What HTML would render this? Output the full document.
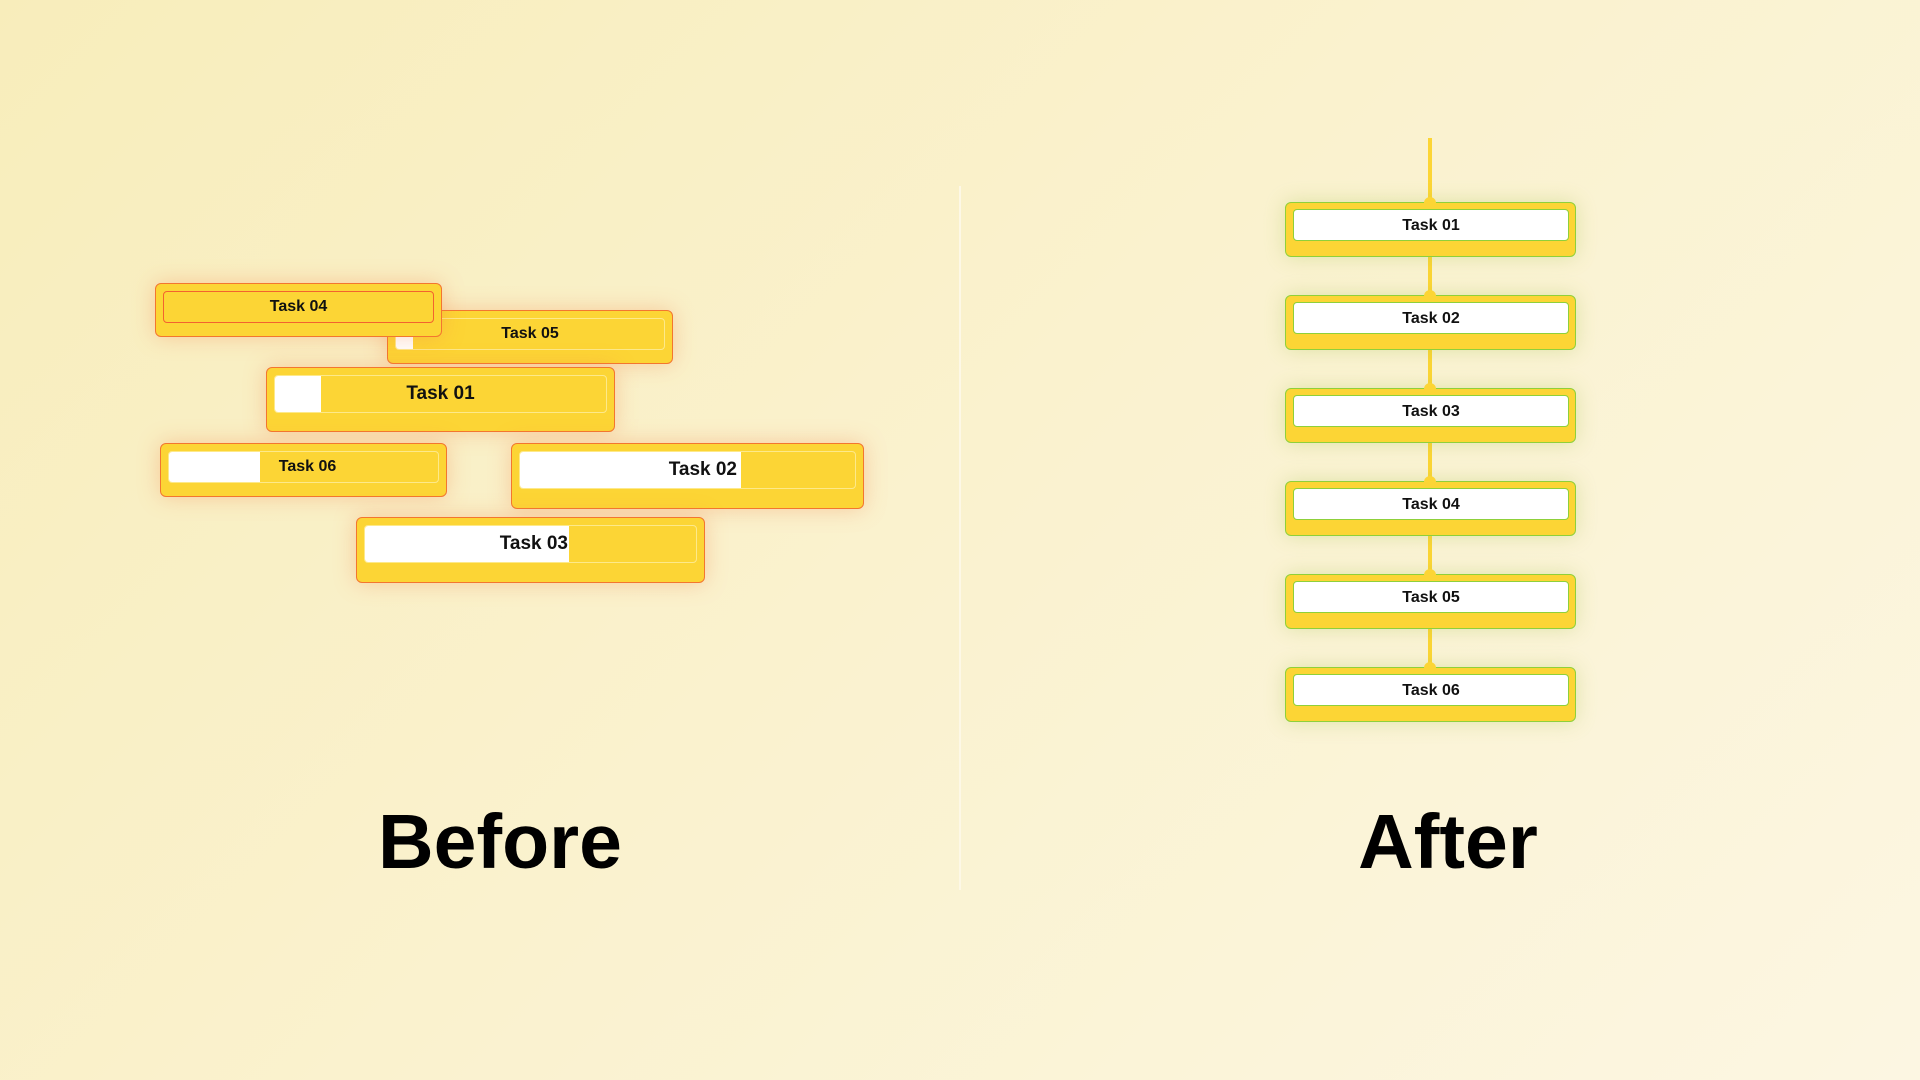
<!DOCTYPE html>
<html><head><meta charset="utf-8"><style>
*{margin:0;padding:0;box-sizing:border-box}
body{width:1920px;height:1080px;overflow:hidden;position:relative;font-family:"Liberation Sans",sans-serif;background:linear-gradient(135deg,#f8edbb 0%,#faf2cf 50%,#fcf6e2 100%)}
.n{position:absolute;background:#fcd535;border:1.5px solid #f3762f;border-radius:6px;box-shadow:0 0 22px rgba(245,130,70,.35)}
.in{position:absolute;left:7px;right:7px;top:7px;border:1.5px solid #fde98a;border-radius:4px;overflow:hidden}
.w{position:absolute;left:0;top:0;bottom:0;background:#fff}
.t{position:absolute;top:0;bottom:0;display:flex;align-items:center;font-weight:bold;color:#111;white-space:nowrap}
.g{position:absolute;left:1285px;width:291px;height:55px;background:#fcd535;border:1.5px solid #8fd03a;border-radius:6px;box-shadow:0 0 20px rgba(160,190,60,.3)}
.g .b{position:absolute;left:7px;right:6px;top:6px;height:32px;background:#fff;border:1.5px solid #8fd03a;border-radius:4px;display:flex;align-items:center;justify-content:center;font-weight:bold;font-size:16px;color:#111;padding-top:2px}
.g:before{content:"";position:absolute;left:138px;top:-6px;width:12px;height:12px;border-radius:50%;background:#fcd535}
.line{position:absolute;left:1428px;width:4px;background:#fcd535}
.big{position:absolute;font-weight:bold;font-size:77px;color:#000;top:798px;transform:translateX(-50%)}
</style></head><body>
<div style="position:absolute;left:959px;top:186px;width:2px;height:704px;background:#fdf8e6"></div>

<div class="n" style="left:387px;top:310px;width:286px;height:54px"><div class="in" style="height:32px"><div class="w" style="width:17px"></div><div class="t" style="left:0;right:0;justify-content:center;font-size:16px">Task 05</div></div></div>
<div class="n" style="left:155px;top:283px;width:287px;height:54px"><div class="in" style="height:32px;border-color:#f3622f"><div class="t" style="left:0;right:0;justify-content:center;font-size:16px">Task 04</div></div></div>
<div class="n" style="left:266px;top:367px;width:349px;height:65px"><div class="in" style="height:38px"><div class="w" style="width:46px"></div><div class="t" style="left:0;right:0;justify-content:center;font-size:19px">Task 01</div></div></div>
<div class="n" style="left:160px;top:443px;width:287px;height:54px"><div class="in" style="height:32px"><div class="w" style="width:91px"></div><div class="t" style="left:0;right:0;justify-content:center;font-size:16px;padding-left:8px">Task 06</div></div></div>
<div class="n" style="left:511px;top:443px;width:353px;height:66px"><div class="in" style="height:38px"><div class="w" style="width:221px"></div><div class="t" style="left:0;width:221px;justify-content:flex-end;padding-right:4px;font-size:19px">Task 02</div></div></div>
<div class="n" style="left:356px;top:517px;width:349px;height:66px"><div class="in" style="height:38px"><div class="w" style="width:204px"></div><div class="t" style="left:0;width:204px;justify-content:flex-end;padding-right:1px;font-size:19px">Task 03</div></div></div>

<div class="line" style="top:138px;height:560px"></div>
<div class="g" style="top:202px"><div class="b">Task 01</div></div>
<div class="g" style="top:295px"><div class="b">Task 02</div></div>
<div class="g" style="top:388px"><div class="b">Task 03</div></div>
<div class="g" style="top:481px"><div class="b">Task 04</div></div>
<div class="g" style="top:574px"><div class="b">Task 05</div></div>
<div class="g" style="top:667px"><div class="b">Task 06</div></div>

<div class="big" style="left:500px">Before</div>
<div class="big" style="left:1448px">After</div>
</body></html>
